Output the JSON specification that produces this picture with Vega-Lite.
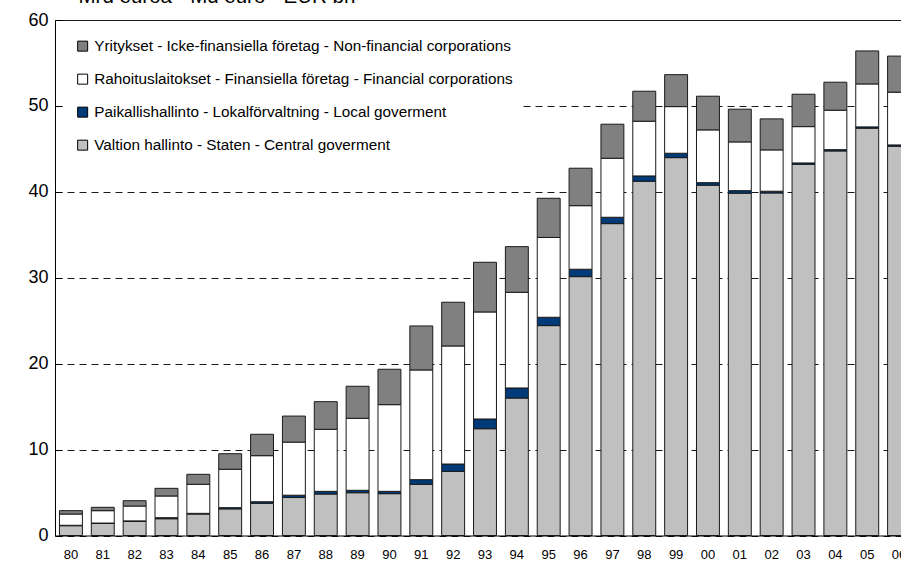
{
  "$schema": "https://vega.github.io/schema/vega-lite/v6.json",
  "width": 846,
  "height": 515.5,
  "autosize": {"type": "none"},
  "padding": {"left": 55, "top": 20, "right": 0, "bottom": 25.5},
  "background": "white",
  "config": {"view": {"stroke": null}, "font": "Liberation Sans"},
  "data": {"values": [
    {"year": "80", "state": 1.14, "local": 0.05, "financial": 1.31, "corporate": 0.39},
    {"year": "81", "state": 1.40, "local": 0.05, "financial": 1.44, "corporate": 0.39},
    {"year": "82", "state": 1.65, "local": 0.05, "financial": 1.73, "corporate": 0.62},
    {"year": "83", "state": 1.95, "local": 0.12, "financial": 2.53, "corporate": 0.89},
    {"year": "84", "state": 2.50, "local": 0.08, "financial": 3.38, "corporate": 1.16},
    {"year": "85", "state": 3.10, "local": 0.14, "financial": 4.47, "corporate": 1.81},
    {"year": "86", "state": 3.75, "local": 0.18, "financial": 5.36, "corporate": 2.49},
    {"year": "87", "state": 4.42, "local": 0.27, "financial": 6.18, "corporate": 3.03},
    {"year": "88", "state": 4.83, "local": 0.31, "financial": 7.22, "corporate": 3.22},
    {"year": "89", "state": 4.98, "local": 0.28, "financial": 8.38, "corporate": 3.73},
    {"year": "90", "state": 4.87, "local": 0.27, "financial": 10.09, "corporate": 4.12},
    {"year": "91", "state": 5.96, "local": 0.54, "financial": 12.77, "corporate": 5.12},
    {"year": "92", "state": 7.47, "local": 0.85, "financial": 13.74, "corporate": 5.09},
    {"year": "93", "state": 12.43, "local": 1.13, "financial": 12.46, "corporate": 5.78},
    {"year": "94", "state": 16.0, "local": 1.17, "financial": 11.14, "corporate": 5.31},
    {"year": "95", "state": 24.43, "local": 0.97, "financial": 9.29, "corporate": 4.56},
    {"year": "96", "state": 30.13, "local": 0.86, "financial": 7.4, "corporate": 4.36},
    {"year": "97", "state": 36.3, "local": 0.74, "financial": 6.87, "corporate": 3.96},
    {"year": "98", "state": 41.23, "local": 0.62, "financial": 6.37, "corporate": 3.49},
    {"year": "99", "state": 43.98, "local": 0.51, "financial": 5.43, "corporate": 3.72},
    {"year": "00", "state": 40.77, "local": 0.30, "financial": 6.14, "corporate": 3.92},
    {"year": "01", "state": 39.84, "local": 0.30, "financial": 5.67, "corporate": 3.81},
    {"year": "02", "state": 39.87, "local": 0.20, "financial": 4.81, "corporate": 3.61},
    {"year": "03", "state": 43.21, "local": 0.15, "financial": 4.23, "corporate": 3.77},
    {"year": "04", "state": 44.76, "local": 0.15, "financial": 4.59, "corporate": 3.26},
    {"year": "05", "state": 47.41, "local": 0.15, "financial": 5.0, "corporate": 3.84},
    {"year": "06", "state": 45.31, "local": 0.15, "financial": 6.14, "corporate": 4.2}
  ]},
  "transform": [{"fold": ["state", "local", "financial", "corporate"], "as": ["sector", "value"]}],
  "mark": {"type": "bar", "stroke": "#1a1a1a", "strokeWidth": 1},
  "encoding": {
    "x": {"field": "year", "type": "ordinal", "sort": null,
      "scale": {"range": [0, 860], "paddingInner": 0.28, "paddingOuter": 0.14},
      "axis": {"title": null, "labelAngle": 0, "ticks": false, "labelPadding": 13, "labelFontSize": 13, "labelColor": "#000", "domainColor": "#000", "grid": false}},
    "y": {"field": "value", "type": "quantitative", "stack": "zero",
      "scale": {"domain": [0, 60], "nice": false},
      "axis": {"title": "Mrd euroa - Md euro - EUR bn", "titleAngle": 0, "titleX": 23, "titleY": -17.5, "titleAlign": "left", "titleBaseline": "alphabetic", "titleFontSize": 20.5, "titleFontWeight": "normal", "titleColor": "#000",
        "values": [0, 10, 20, 30, 40, 50, 60], "labelFontSize": 18, "labelColor": "#000", "domainColor": "#000", "tickColor": "#000", "tickSize": -7, "labelPadding": 14, "grid": true, "gridColor": "#000", "gridOpacity": 0.9, "gridDash": {"condition": {"test": "datum.value == 60", "value": []}, "value": [7, 5]}}},
    "order": {"field": "sector", "sort": "descending"},
    "color": {"field": "sector", "type": "nominal",
      "scale": {"domain": ["corporate", "financial", "local", "state"], "range": ["#808080", "#ffffff", "#003a78", "#c0c0c0"]},
      "legend": {"title": null, "orient": "none", "legendX": 10, "legendY": 8.5,
        "values": ["corporate", "financial", "local", "state"],
        "labelExpr": "datum.label == 'corporate' ? 'Yritykset - Icke-finansiella företag - Non-financial corporations' : datum.label == 'financial' ? 'Rahoituslaitokset - Finansiella företag - Financial corporations' : datum.label == 'local' ? 'Paikallishallinto - Lokalförvaltning - Local goverment' : 'Valtion hallinto - Staten - Central goverment'",
        "symbolType": "square", "symbolSize": 100, "symbolStrokeColor": "#000", "symbolStrokeWidth": 1,
        "labelFontSize": 15.3, "labelColor": "#000", "labelOffset": 4, "rowPadding": 17, "padding": 10, "fillColor": "#ffffff", "labelLimit": 700}}
  }
}
